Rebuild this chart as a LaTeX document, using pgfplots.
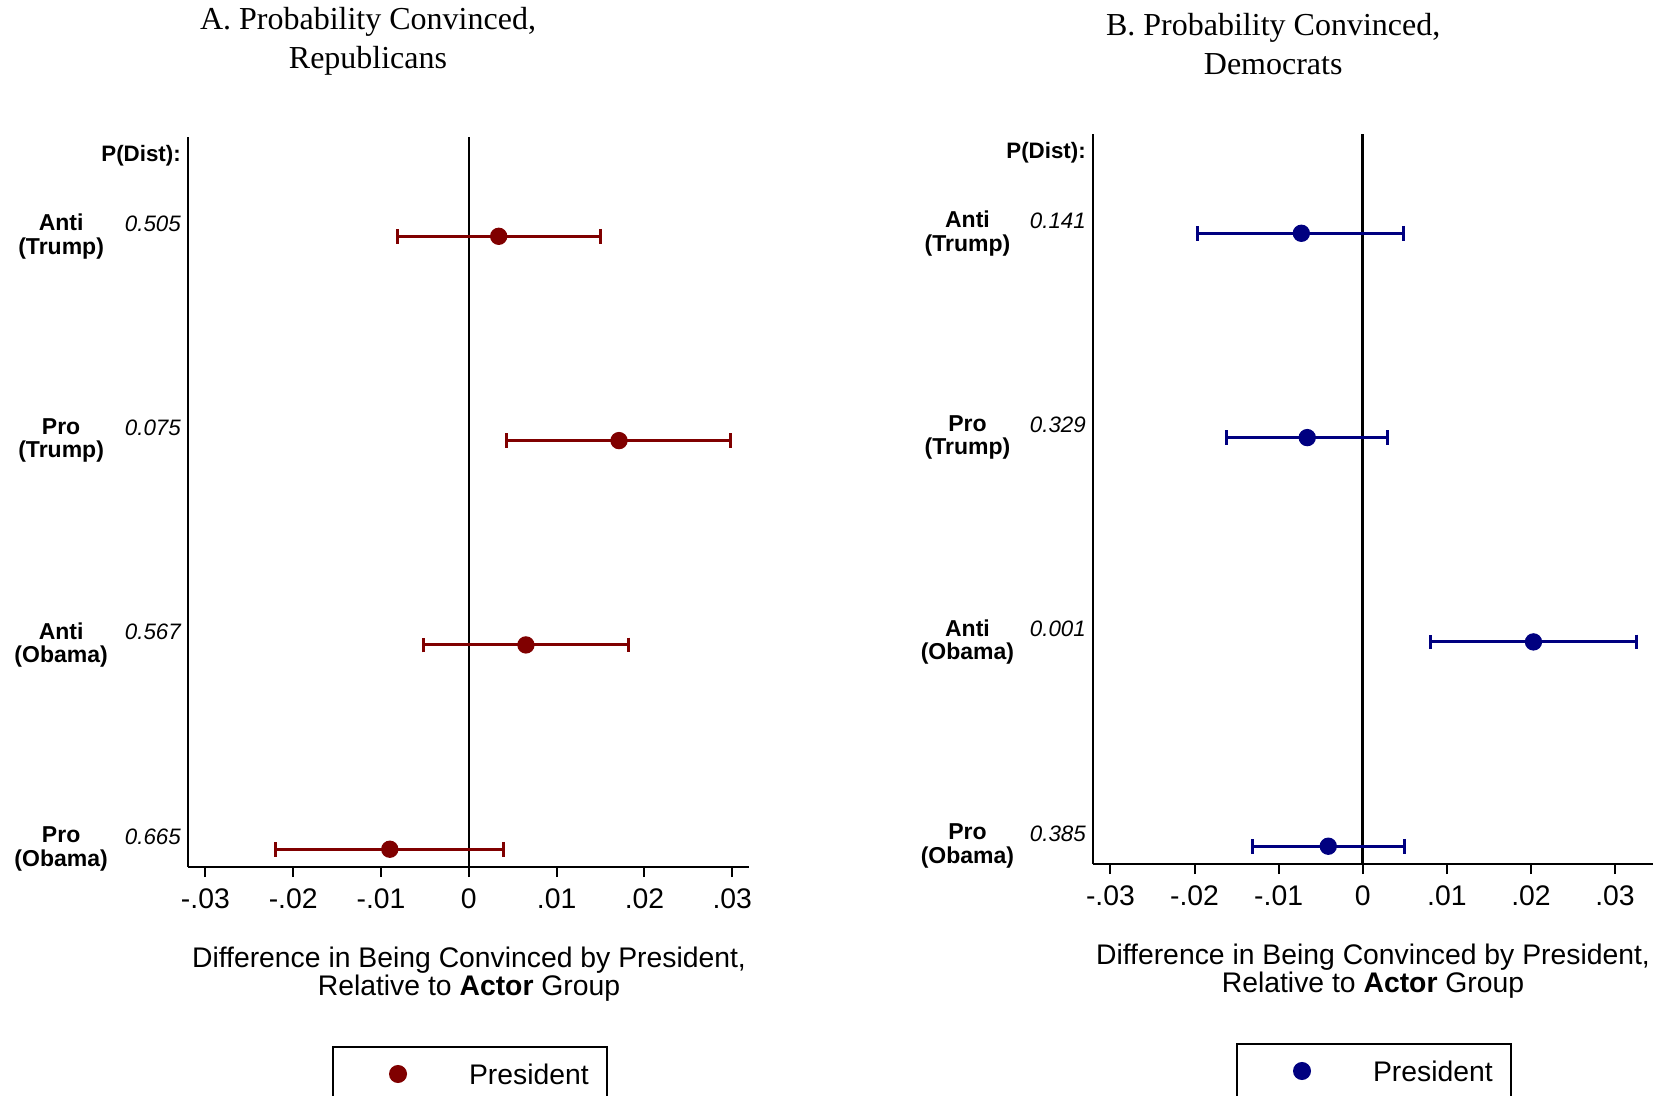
\documentclass[border=0pt]{standalone}
\usepackage{fontspec}
\setmainfont{Liberation Sans}
\newfontfamily\titlefont{Liberation Serif}
\usepackage{pgfplots}
\pgfplotsset{compat=1.18}
\usepackage{pgfplotstable}
\definecolor{statared}{RGB}{128,0,0}
\definecolor{statablue}{RGB}{0,0,128}

\pgfplotstableread{
y x em ep
4 0.0034 0.0115 0.0116
3 0.0171 0.0128 0.0127
2 0.0065 0.0117 0.0117
1 -0.0090 0.0130 0.0130
}\repdata

\pgfplotstableread{
y x em ep
4 -0.0073 0.0123 0.0122
3 -0.0066 0.0096 0.0095
2 0.0203 0.0123 0.0123
1 -0.0041 0.0090 0.0091
}\demdata

\tikzset{
  rowlab/.style={align=center, font=\bfseries\fontsize{6.9}{7.1}\selectfont},
  pval/.style={anchor=east, inner sep=0pt, font=\itshape\fontsize{6.7}{7}\selectfont},
  pdist/.style={anchor=east, inner sep=0pt, font=\bfseries\fontsize{6.7}{7}\selectfont},
}

\pgfplotsset{
  forest/.style={
    scale only axis, height=219pt,
    ymin=0.913, ymax=4.486,
    axis x line*=bottom, axis y line*=left,
    ytick=\empty,
    scaled x ticks=false,
    xtick={-0.03,-0.02,-0.01,0,0.01,0.02,0.03},
    xticklabels={{\mbox{-.03}},{\mbox{-.02}},{\mbox{-.01}},{\mbox{0}},{\mbox{.01}},{\mbox{.02}},{\mbox{.03}}},
    tick align=outside, major tick length=3pt,
    every tick/.style={black, line width=0.6pt},
    axis line style={black, line width=0.6pt},
    tick label style={font=\fontsize{8.5}{9}\selectfont},
    clip=false,
    legend style={draw=black, line width=0.6pt, inner xsep=0pt, inner ysep=0pt,
      nodes={inner sep=0pt, text depth=0pt}, cells={anchor=west},
      font=\fontsize{8.5}{9}\selectfont, anchor=north west},
    legend image code/.code={%
      \path[draw=none, fill=none] (0pt,-8.1pt) rectangle (40.8pt,8.1pt);
      \draw[mark=*, mark size=2.4pt, mark options={solid}] plot coordinates {(19.5pt,0pt)};},
  },
  ci/.style={only marks, mark=*, mark size=2.4pt, color=#1,
    mark options={fill=#1, draw=#1},
    error bars/.cd, x dir=both, x explicit, error mark=|,
    error bar style={line width=0.9pt, color=#1},
    error mark options={line width=0.9pt, mark size=2.2pt, color=#1}},
}

\begin{document}
\begin{tikzpicture}
\useasboundingbox (0,0) rectangle (496.2pt,-328.8pt);

% Panel A
\begin{axis}[forest, at={(56.34pt,-260.1pt)}, anchor=south west, width=168.36pt,
  xmin=-0.032, xmax=0.0319,
  legend style={at={(axis description cs:0.257,-0.2452)}}]
  \addplot[black, line width=0.8pt, forget plot] coordinates {(0,0.913) (0,4.486)};
  \addplot[ci=statared] table[x=x, y=y, x error minus=em, x error plus=ep] {\repdata};
  \addlegendentry{\hbox{President\kern5.4pt}}
  \node[pdist] at (axis cs:-0.032,4.393) [xshift=-1.9pt] {P(Dist):};
  \node[rowlab] at (axis cs:-0.032,4) [xshift=-38pt] {Anti\\(Trump)};
  \node[rowlab] at (axis cs:-0.032,3) [xshift=-38pt] {Pro\\(Trump)};
  \node[rowlab] at (axis cs:-0.032,2) [xshift=-38pt] {Anti\\(Obama)};
  \node[rowlab] at (axis cs:-0.032,1) [xshift=-38pt] {Pro\\(Obama)};
  \node[pval] at (axis cs:-0.032,4) [xshift=-1.9pt, yshift=3.8pt] {0.505};
  \node[pval] at (axis cs:-0.032,3) [xshift=-1.9pt, yshift=3.8pt] {0.075};
  \node[pval] at (axis cs:-0.032,2) [xshift=-1.9pt, yshift=3.8pt] {0.567};
  \node[pval] at (axis cs:-0.032,1) [xshift=-1.9pt, yshift=3.8pt] {0.665};
\end{axis}

% Panel B
\begin{axis}[forest, at={(327.84pt,-259.2pt)}, anchor=south west, width=168.1pt,
  xmin=-0.0321, xmax=0.03453,
  legend style={at={(axis description cs:0.2556,-0.2452)}}]
  \addplot[black, line width=0.8pt, forget plot] coordinates {(0,0.913) (0,4.486)};
  \addplot[ci=statablue] table[x=x, y=y, x error minus=em, x error plus=ep] {\demdata};
  \addlegendentry{\hbox{President\kern5.4pt}}
  \node[pdist] at (axis cs:-0.0321,4.392) [xshift=-1.9pt] {P(Dist):};
  \node[rowlab] at (axis cs:-0.0321,4) [xshift=-37.6pt] {Anti\\(Trump)};
  \node[rowlab] at (axis cs:-0.0321,3) [xshift=-37.6pt] {Pro\\(Trump)};
  \node[rowlab] at (axis cs:-0.0321,2) [xshift=-37.6pt] {Anti\\(Obama)};
  \node[rowlab] at (axis cs:-0.0321,1) [xshift=-37.6pt] {Pro\\(Obama)};
  \node[pval] at (axis cs:-0.0321,4) [xshift=-1.9pt, yshift=3.8pt] {0.141};
  \node[pval] at (axis cs:-0.0321,3) [xshift=-1.9pt, yshift=3.8pt] {0.329};
  \node[pval] at (axis cs:-0.0321,2) [xshift=-1.9pt, yshift=3.8pt] {0.001};
  \node[pval] at (axis cs:-0.0321,1) [xshift=-1.9pt, yshift=3.8pt] {0.385};
\end{axis}

% Titles
\node[align=center, font=\titlefont\fontsize{9.6}{11.7}\selectfont] at (110.4pt,-12.5pt) {A. Probability Convinced,\\Republicans};
\node[align=center, font=\titlefont\fontsize{9.6}{11.7}\selectfont] at (381.96pt,-13.1pt) {B. Probability Convinced,\\Democrats};

% x labels
\node[align=center, font=\fontsize{8.5}{8.4}\selectfont] at (140.7pt,-292.3pt) {Difference in Being Convinced by President,\\Relative to \textbf{Actor} Group};
\node[align=center, font=\fontsize{8.5}{8.4}\selectfont] at (411.9pt,-291.4pt) {Difference in Being Convinced by President,\\Relative to \textbf{Actor} Group};
\end{tikzpicture}
\end{document}
